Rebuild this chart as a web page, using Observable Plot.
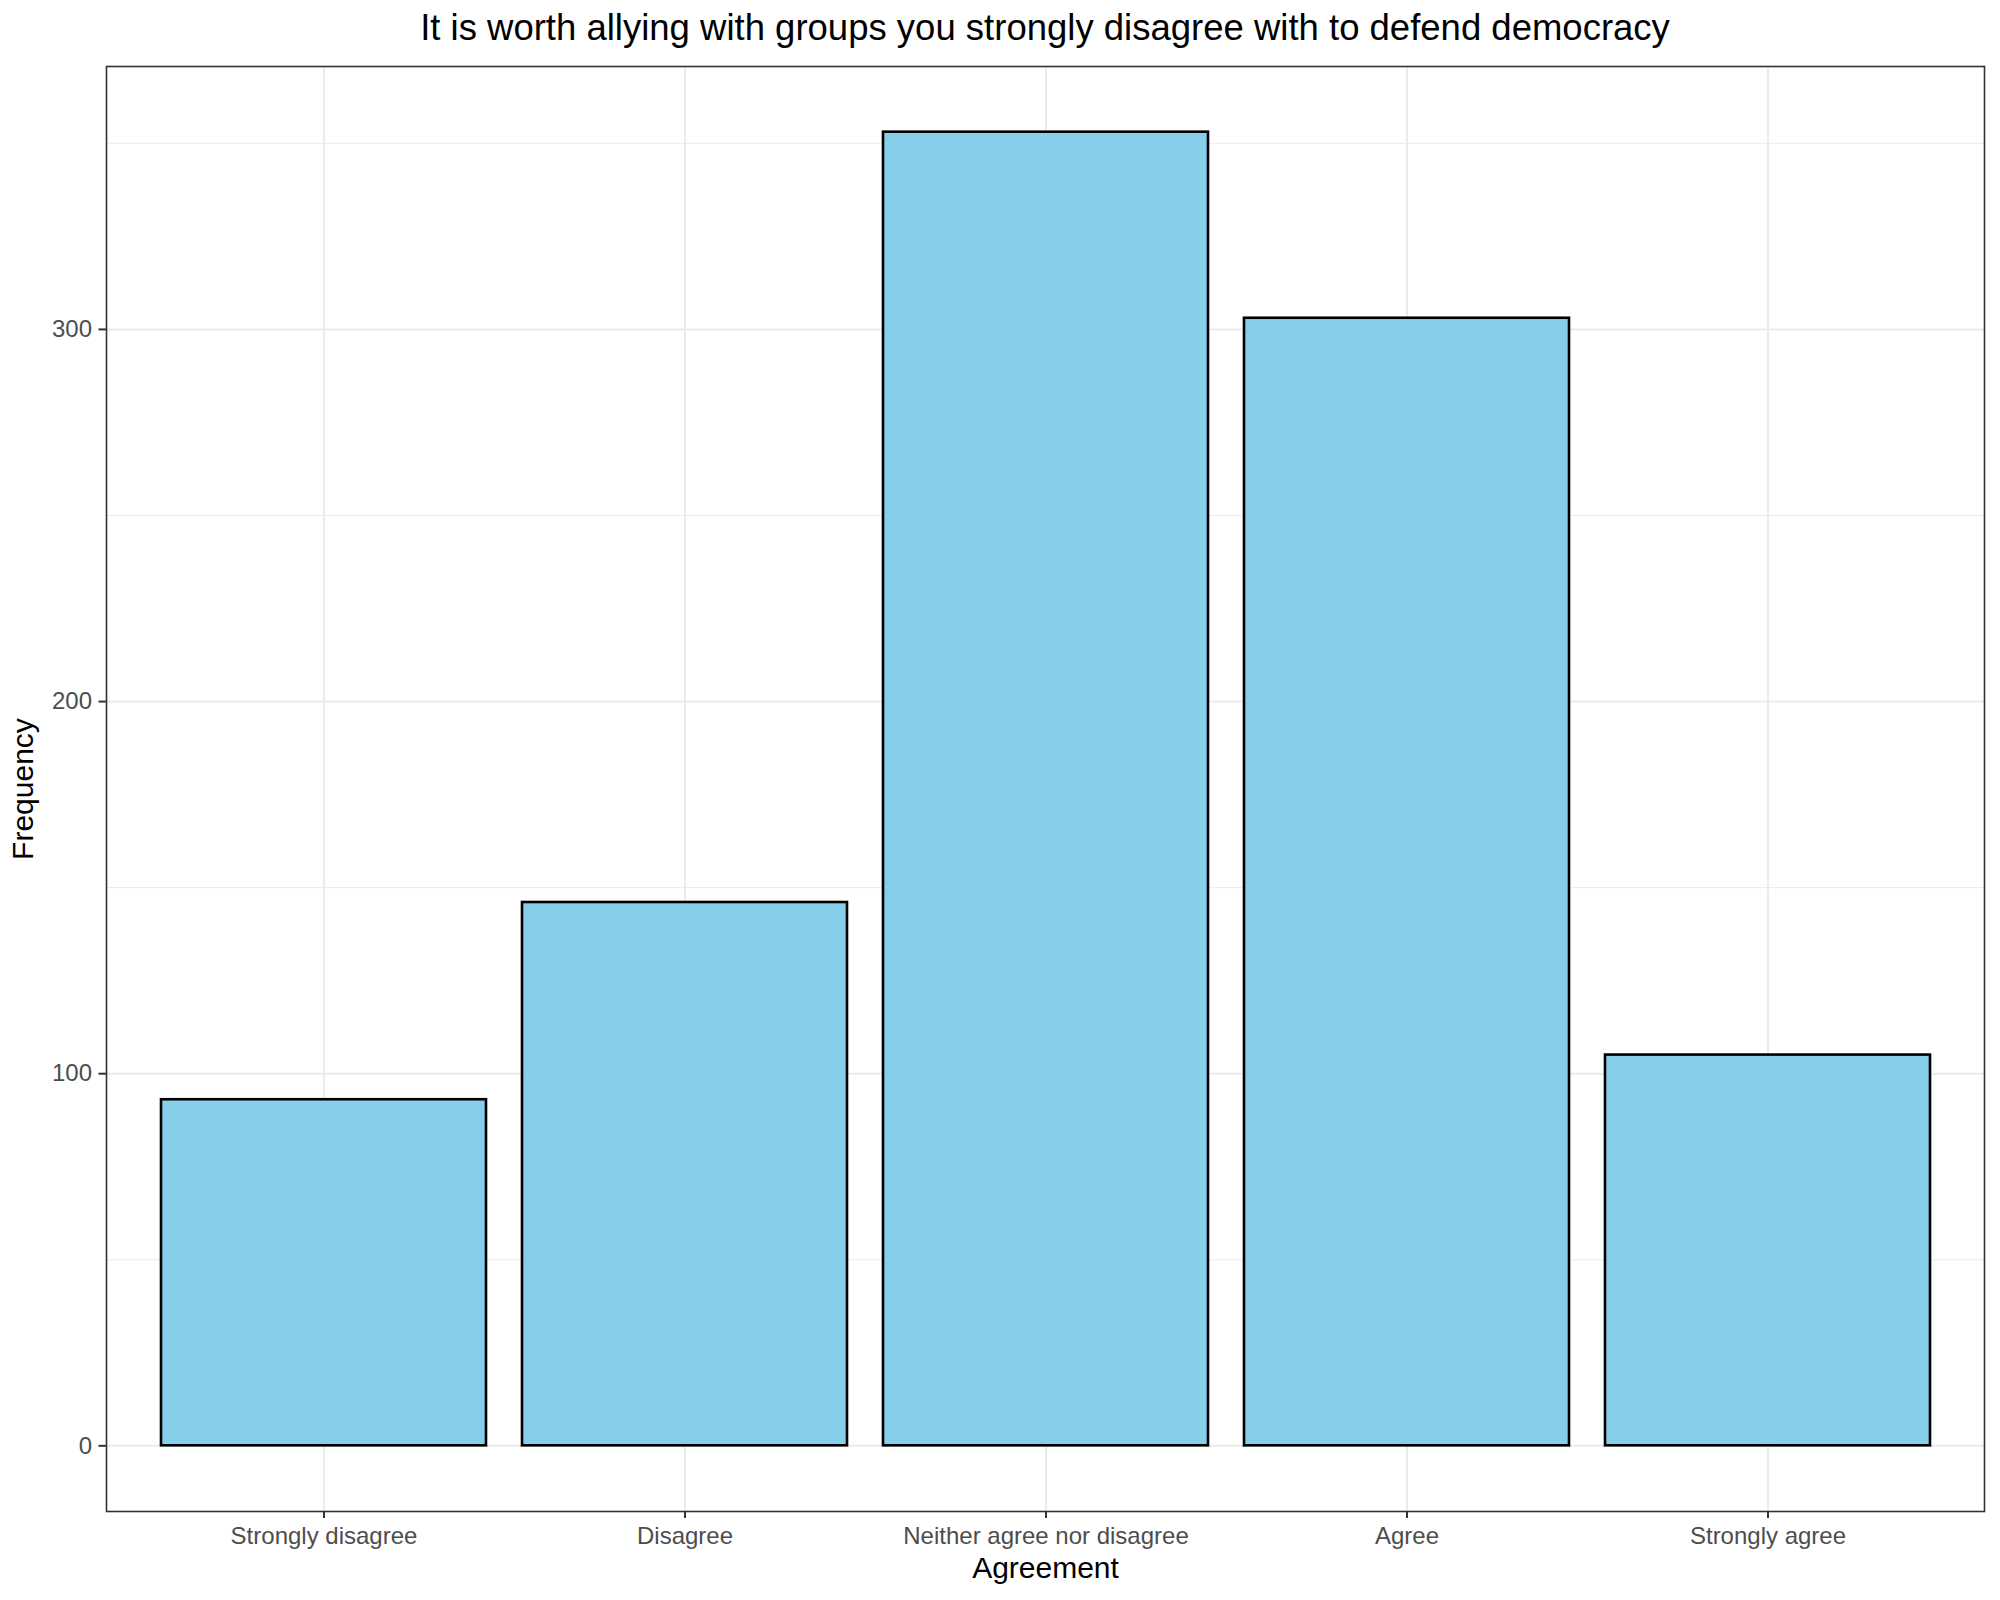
<!DOCTYPE html>
<html><head><meta charset="utf-8">
<script src="https://cdn.jsdelivr.net/npm/d3@7"></script>
<script src="https://cdn.jsdelivr.net/npm/@observablehq/plot@0.6"></script>
<style>
body{margin:0;background:#fff;font-family:"Liberation Sans",Arial,sans-serif}
#title{height:56px;line-height:56px;margin-left:106px;width:1878px;text-align:center;font-size:36.5px;color:#000;white-space:nowrap}
</style></head><body>
<div id="title">It is worth allying with groups you strongly disagree with to defend democracy</div>
<div id="chart"></div>
<script>
const categories = ["Strongly disagree", "Disagree", "Neither agree nor disagree", "Agree", "Strongly agree"];
const frequencies = [93, 146, 353, 303, 105];
const yTicks = [0, 100, 200, 300];
const yMinorTicks = [50, 150, 250, 350];
const xTitle = "Agreement";
const yTitle = "Frequency";

const data = categories.map((c, i) => ({category: c, frequency: frequencies[i]}));
const maxV = d3.max(frequencies);
const pad = maxV * 0.05;

const chart = Plot.plot({
  width: 2000, height: 1544,
  marginTop: 10, marginBottom: 89, marginLeft: 106, marginRight: 16,
  style: {fontFamily: '"Liberation Sans", Arial, sans-serif', background: "white"},
  x: {domain: categories, paddingInner: 0.1, paddingOuter: 0.15, label: null},
  y: {domain: [-pad, maxV + pad], label: null},
  marks: [
    Plot.gridY(yMinorTicks, {stroke: "#EBEBEB", strokeOpacity: 1, strokeWidth: 1}),
    Plot.gridY(yTicks, {stroke: "#EBEBEB", strokeOpacity: 1, strokeWidth: 2}),
    Plot.gridX(categories, {stroke: "#EBEBEB", strokeOpacity: 1, strokeWidth: 2}),
    Plot.barY(data, {x: "category", y: "frequency", fill: "#87CEEB", stroke: "#000", strokeWidth: 2.6}),
    Plot.frame({stroke: "#333", strokeWidth: 1.6}),
    Plot.axisY(yTicks, {tickSize: 7.5, tickPadding: 7, fontSize: 24, fill: "#4D4D4D", stroke: "#333", strokeWidth: 2, label: null}),
    Plot.axisY([], {label: yTitle, labelAnchor: "center", labelArrow: "none", fontSize: 30, fill: "#000", labelOffset: 95, tickSize: 0}),
    Plot.axisX({tickSize: 7, tickPadding: 8, fontSize: 24, fill: "#4D4D4D", stroke: "#333", strokeWidth: 2, label: null}),
    Plot.axisX([], {label: xTitle, labelAnchor: "center", labelArrow: "none", fontSize: 30, fill: "#000", labelOffset: 66, tickSize: 0})
  ]
});
document.getElementById("chart").appendChild(chart);
</script>
</body></html>
